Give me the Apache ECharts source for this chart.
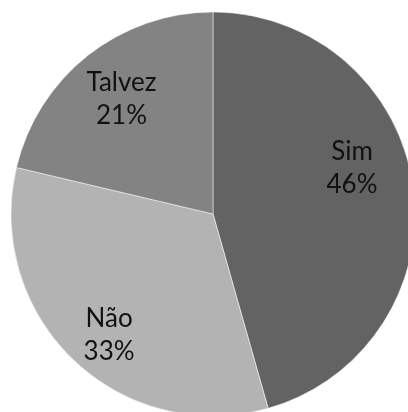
<!DOCTYPE html>
<html>
<head>
<meta charset="utf-8">
<script src="https://cdn.jsdelivr.net/npm/echarts@6/dist/echarts.min.js"></script>
<style>
    html, body { margin: 0; padding: 0; background: #fff; }
    #chart { width: 408px; height: 412px; }
</style>
</head>
<body>
<div id="chart"></div>
<script>
var categories = ['Sim', 'Não', 'Talvez'];
var values = [45.6, 33.1, 21.3];
var colors = ['#636363', '#b3b3b3', '#838383'];
// nudge labels to where the original sits them
var labelShift = [[36, -32], [-32, 46], [-27, -33]];

var pieData = [];
for (var i = 0; i < categories.length; i++) {
    pieData.push({
        name: categories[i],
        value: values[i],
        itemStyle: { color: colors[i] }
    });
}

var chart = echarts.init(document.getElementById('chart'), null, { renderer: 'canvas' });
chart.setOption({
    animation: false,
    backgroundColor: '#ffffff',
    series: [
        {
            type: 'pie',
            center: [213, 214],
            radius: 202,
            startAngle: 90,
            clockwise: true,
            percentPrecision: 0,
            silent: true,
            itemStyle: { borderWidth: 0.5, borderColor: '#ffffff' },
            label: {
                show: true,
                position: 'inside',
                formatter: '{b}\n{d}%',
                color: '#111111',
                fontFamily: 'Lato',
                fontSize: 26,
                lineHeight: 33,
                align: 'center'
            },
            labelLine: { show: false },
            labelLayout: function (params) {
                var s = labelShift[params.dataIndex];
                return { dx: s[0], dy: s[1] };
            },
            data: pieData
        }
    ]
});
</script>
</body>
</html>
